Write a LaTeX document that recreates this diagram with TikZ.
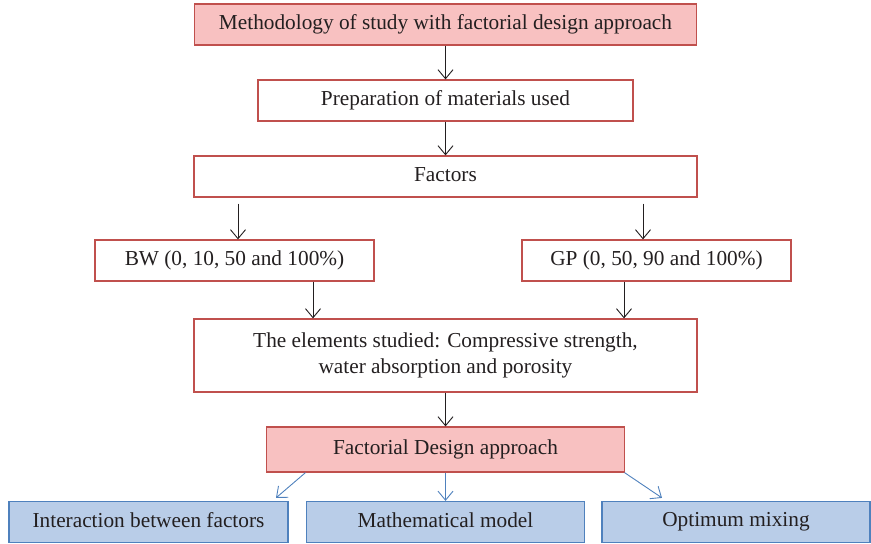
\documentclass[tikz,border=0pt]{standalone}
\usepackage{fontspec}
\setmainfont{Liberation Serif}
\usetikzlibrary{arrows.meta}
\definecolor{pinkfill}{HTML}{F8C1C1}
\definecolor{redline}{HTML}{C0504D}
\definecolor{bluefill}{HTML}{B9CDE8}
\definecolor{blueline}{HTML}{4F81BD}
\definecolor{txt}{HTML}{231F20}
\tikzset{
  box/.style={draw=redline, line width=1.2pt, inner sep=0pt, text=txt, font=\fontsize{21.3}{26}\selectfont, align=center, execute at begin node={\vphantom{Mg}}},
  pinkbox/.style={box, fill=pinkfill},
  bluebox/.style={box, draw=blueline, fill=bluefill},
  arr/.style={draw=txt, line width=0.9pt, -{Straight Barb[length=9pt,width=15pt]}},
  barr/.style={draw=blueline, line width=0.9pt, -{Straight Barb[length=9pt,width=15pt]}}
}
\begin{document}
\begin{tikzpicture}[x=1pt,y=1pt]
\useasboundingbox (0,0) rectangle (871,544);
\node[pinkbox, minimum width=502, minimum height=41] (top) at (445.5,519.5) {Methodology of study with factorial design approach};
\node[box, minimum width=375, minimum height=41] (prep) at (445.5,443.5) {Preparation of materials used};
\node[box, minimum width=503, minimum height=41] (fac) at (445.5,367.5) {Factors};
\node[box, minimum width=279, minimum height=41] (bw) at (234.5,283.5) {BW (0, 10, 50 and 100\%)};
\node[box, minimum width=269, minimum height=41] (gp) at (656.5,283.5) {GP (0, 50, 90 and 100\%)};
\node[box, minimum width=503, minimum height=73] (el) at (445.5,188.5) {The elements studied: Compressive strength,\\water absorption and porosity};
\node[pinkbox, minimum width=358, minimum height=45] (fd) at (445.5,94.5) {Factorial Design approach};
\node[bluebox, minimum width=279, minimum height=41] (ia) at (148.5,22) {Interaction between factors};
\node[bluebox, minimum width=278, minimum height=41] (mm) at (445.5,22) {Mathematical model};
\node[bluebox, minimum width=268, minimum height=41] (om) at (736,22) {Optimum mixing};
\coordinate (bwin) at ([xshift=3.5]bw.north);
\coordinate (gpin) at ([xshift=-13.5]gp.north);
\coordinate (bwout) at ([xshift=78.5]bw.south);
\coordinate (gpout) at ([xshift=-32.5]gp.south);
\coordinate (fdl) at ([xshift=-140]fd.south);
\coordinate (fdr) at ([xshift=179]fd.south);
\coordinate (ial) at ([xshift=127.5]ia.north);
\coordinate (omr) at ([xshift=-74]om.north);
\draw[arr] (top.south) -- (prep.north);
\draw[arr] (prep.south) -- (fac.north);
\draw[arr] ([yshift=-6]fac.south -| bwin) -- (bwin);
\draw[arr] ([yshift=-6]fac.south -| gpin) -- (gpin);
\draw[arr] (bwout) -- (bwout |- el.north);
\draw[arr] (gpout) -- (gpout |- el.north);
\draw[arr] (el.south) -- (el.south |- fd.north);
\draw[barr] (fdl) -- ([yshift=3]ial);
\draw[barr] (fd.south) -- (fd.south |- mm.north);
\draw[barr] (fdr) -- ([yshift=3]omr);
\end{tikzpicture}
\end{document}
